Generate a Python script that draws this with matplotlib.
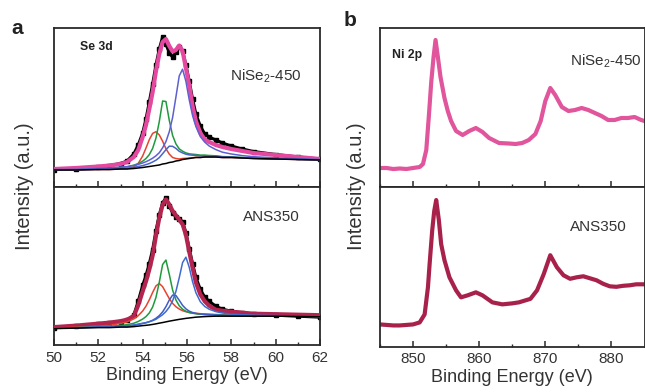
import matplotlib
matplotlib.use('Agg')
import matplotlib.pyplot as plt
from matplotlib.ticker import MultipleLocator

plt.rcParams['font.family'] = ['Liberation Sans', 'DejaVu Sans']
plt.rcParams['mathtext.fontset'] = 'custom'
plt.rcParams['mathtext.rm'] = 'Liberation Sans'
plt.rcParams['mathtext.it'] = 'Liberation Sans:italic'

# ---------------- Se 3d (panel a) ----------------
se_e = [50, 51, 52, 52.5, 53, 53.3, 53.6, 53.8, 54.0, 54.15, 54.3, 54.45, 54.6, 54.75,
        54.9, 55.05, 55.2, 55.35, 55.5, 55.65, 55.8, 55.95, 56.1, 56.25, 56.4, 56.6,
        56.8, 57.0, 57.3, 57.6, 58.0, 58.5, 59, 60, 61, 62]

# NiSe2-450
nise_data = [17.5, 18.5, 20, 21.5, 23.5, 26, 33, 42, 54, 68, 85, 103, 122, 138, 150, 143,
             134, 130, 135, 140, 136, 122, 106, 88, 73, 61, 53, 50, 47, 44, 41, 38, 35.5,
             32.5, 30, 28]
nise_fit = [18, 19, 20.5, 21.5, 23, 25, 30, 37, 50, 62, 78, 95, 116, 133, 145, 148, 141,
            135.5, 137, 141.5, 136, 119, 102, 81, 66, 54, 47.5, 45, 42, 40, 38, 36, 34, 32,
            30, 28]
nise_bg = [17, 17, 17.5, 17.5, 18, 18, 18.5, 19, 19.5, 20, 20.5, 21, 21.5, 22, 23, 23.5,
           24.5, 25, 26, 26.5, 27.5, 28, 28.5, 29, 29.5, 29.5, 30, 30, 30, 29.5, 29.5, 29,
           28.5, 28, 27.5, 27]
nise_c1 = [0, 0, 0, 0, 0, 0.3, 1.5, 4.6, 11.5, 19, 26.9, 32.6, 33.8, 30, 22.8, 14.8, 8.4,
           4.5, 2.5, 1.5, 1.0, 0.7, 0.5, 0.3, 0.2, 0.1, 0, 0, 0, 0, 0, 0, 0, 0, 0, 0]
nise_c2 = [0.3, 0.4, 0.7, 1.1, 1.6, 2.3, 3.3, 4.4, 6.3, 8.5, 11.9, 17.6, 27.4, 43.4, 63,
           62, 42.2, 26.6, 17.1, 11.6, 8.3, 6.1, 4.7, 3.8, 3.0, 2.4, 1.9, 1.5, 1.2, 0.9,
           0.7, 0.5, 0.4, 0.25, 0.2, 0.15]
nise_c3 = [0.1, 0.2, 0.3, 0.4, 0.6, 0.8, 1.1, 1.5, 1.9, 2.4, 3.0, 4.0, 5.3, 7.4, 10.3,
           13.8, 16.3, 15.7, 12.6, 9.2, 6.6, 4.8, 3.6, 2.8, 2.2, 1.6, 1.3, 1.0, 0.8, 0.6,
           0.4, 0.3, 0.2, 0.1, 0.1, 0.1]
nise_c4 = [0.4, 0.6, 1.0, 1.3, 1.9, 2.3, 3.0, 3.6, 4.5, 5.3, 6.4, 7.8, 9.7, 12.3, 16.2,
           21.9, 30.7, 44.4, 64, 84.6, 90.3, 77.7, 58.8, 42.6, 31, 21, 14.9, 11, 7.4, 5.3,
           3.5, 2.4, 1.8, 1.1, 0.7, 0.5]

# ANS350
ans_data = [17.5, 19, 21, 22, 23.5, 25, 30, 44, 60, 70, 82, 96, 115, 131, 143, 148, 140,
            133, 129, 127, 124, 113, 97, 82, 68, 56, 48, 44, 39, 36, 34, 32.5, 31, 30, 29,
            28]
ans_fit = [18, 19.5, 21.5, 22.5, 24, 25.5, 29, 40, 54, 64, 76, 90, 110, 128, 141, 146.5,
           141.5, 135, 130.5, 126, 121.5, 111, 94, 78, 63, 51, 44, 39.5, 35.5, 34.5, 33.5,
           32.5, 31.5, 31, 30.5, 30]
ans_bg = [16.5, 17, 17.5, 17.5, 18, 18, 18.5, 19, 19.5, 19.8, 20.2, 20.7, 21.3, 22, 22.6,
          23.3, 24, 24.6, 25.2, 25.8, 26.3, 26.8, 27.2, 27.6, 28, 28.3, 28.6, 28.8, 29, 29,
          29, 29, 29, 29, 28.8, 28.5]
ans_c1 = [0.5, 0.9, 1.6, 2.3, 3.7, 5.2, 7.8, 10.5, 14.7, 19.3, 25.3, 32.2, 38.2, 39.9,
          36.1, 29.4, 22.7, 17.3, 13.3, 10.4, 8.2, 6.7, 5.5, 4.6, 3.9, 3.2, 2.6, 2.2, 1.7,
          1.4, 1.1, 0.8, 0.6, 0.4, 0.3, 0.2]
ans_c2 = [0.3, 0.5, 0.8, 1.2, 1.8, 2.4, 3.4, 4.7, 6.6, 8.8, 12.1, 17.5, 26.6, 41.2, 58.4,
          62.2, 47.2, 30.8, 20.1, 13.7, 9.7, 7.2, 5.5, 4.4, 3.4, 2.7, 2.2, 1.8, 1.4, 1.1,
          0.8, 0.6, 0.5, 0.3, 0.2, 0.15]
ans_c3 = [0.2, 0.2, 0.4, 0.5, 0.8, 1.0, 1.3, 1.7, 2.1, 2.6, 3.3, 4.2, 5.6, 7.6, 10.7,
          15.3, 21.2, 25.6, 24.6, 19.2, 13.6, 9.6, 6.9, 5.1, 3.9, 2.8, 2.1, 1.7, 1.2, 0.9,
          0.7, 0.5, 0.4, 0.2, 0.15, 0.1]
ans_c4 = [0.3, 0.4, 0.6, 0.8, 1.1, 1.3, 1.7, 2.0, 2.4, 2.7, 3.2, 3.8, 4.6, 6.2, 7.9, 10.4,
          14.1, 19.8, 28.7, 41.9, 56.6, 61.6, 51.1, 36.2, 24.7, 15.3, 10.2, 7.2, 4.6, 3.2,
          2.1, 1.4, 1.0, 0.6, 0.4, 0.25]

# ---------------- Ni 2p (panel b) ----------------
ni_top_e = [845, 846, 847, 848, 849, 850, 851, 851.5, 852, 852.4, 852.75, 853.1, 853.4,
            853.75, 854.15, 854.75, 855.25, 855.75, 856.5, 857.5, 858.5, 859.5, 860.5,
            861.5, 863, 864.5, 865.5, 866.5, 867.5, 868.5, 869.3, 870, 870.75, 871.5,
            872.5, 873.5, 874.5, 875.5, 876.5, 877.5, 878.5, 879.5, 880.5, 881.5, 882.5,
            883.5, 884.5, 885]
ni_top_i = [19, 19, 18, 18.5, 18, 19, 20, 23, 37, 72, 105, 130, 147, 130, 110, 89, 76, 66,
            56, 52, 56, 59, 55, 49, 44, 43.5, 43, 44, 47, 53, 66, 86, 99, 92, 80, 76, 77,
            79, 77, 74, 71, 67, 67, 69, 69, 70, 67, 66]
ni_bot_e = [845, 846, 847, 848, 849, 850, 851, 851.75, 852.25, 852.5, 852.9, 853.2, 853.5,
            853.9, 854.25, 854.75, 855.5, 856.5, 857.25, 858.25, 859.5, 860.5, 862, 863.5,
            865, 866, 867, 867.75, 868.75, 869.75, 870.75, 871.75, 872.75, 873.75, 874.75,
            875.75, 876.75, 877.75, 878.75, 879.75, 880.75, 881.75, 882.75, 883.75, 884.75,
            885]
ni_bot_i = [22, 21.5, 21, 21, 21.5, 22, 24, 32, 59, 82, 116, 135, 146, 126, 102, 86, 69,
            56, 49, 51, 54, 51, 44, 42, 43, 44, 46, 47.5, 56, 72, 91, 79, 71, 67.5, 69, 70,
            68, 66, 62.5, 60, 59.5, 60.5, 61, 62, 62, 62]

W, H = 645, 392
fig = plt.figure(figsize=(W / 100, H / 100), dpi=100)


def ax_at(l, t, r, b):
    return fig.add_axes([l / W, 1 - b / H, (r - l) / W, (b - t) / H])


axa1 = ax_at(54, 28, 320, 187)
axa2 = ax_at(54, 187, 320, 345)
axb1 = ax_at(380, 28, 644.5, 187)
axb2 = ax_at(380, 187, 644.5, 346.5)

spine_c = '#2a2a2a'
text_c = '#333333'


def style(ax, xlim, major, minor, labels):
    ax.set_xlim(*xlim)
    ax.set_ylim(0, 159)
    ax.xaxis.set_major_locator(MultipleLocator(major))
    ax.xaxis.set_minor_locator(MultipleLocator(minor))
    ax.tick_params(axis='x', which='both', direction='in', top=False, bottom=True,
                   colors=spine_c, labelcolor=text_c, labelsize=11, pad=4)
    ax.tick_params(axis='x', which='major', length=4, width=1.1)
    ax.tick_params(axis='x', which='minor', length=2.5, width=1.0)
    ax.tick_params(axis='y', which='both', left=False, right=False, labelleft=False)
    if not labels:
        ax.tick_params(axis='x', labelbottom=False)
    for s in ax.spines.values():
        s.set_color(spine_c)
        s.set_linewidth(1.3)


def se_panel(ax, data, fit, bg, c1, c2, c3, c4, fit_color, c3_color, c4_color):
    ax.plot(se_e, data, color='black', lw=2.2, marker='s', ms=2.6, zorder=2)
    ax.plot(se_e, fit, color=fit_color, lw=3.0, zorder=3)
    for comp, col in ((c1, '#e8432f'), (c2, '#1f9a3c'), (c3, c3_color), (c4, c4_color)):
        ax.plot(se_e, [b + v for b, v in zip(bg, comp)], color=col, lw=1.1, zorder=4)
    ax.plot(se_e, bg, color='black', lw=1.1, zorder=5)


se_panel(axa1, nise_data, nise_fit, nise_bg, nise_c1, nise_c2, nise_c3, nise_c4,
         '#e4489f', '#4a64c8', '#5f5fd2')
se_panel(axa2, ans_data, ans_fit, ans_bg, ans_c1, ans_c2, ans_c3, ans_c4,
         '#b3244f', '#3f5cc4', '#3f6bd0')
style(axa1, (50, 62), 2, 1, False)
style(axa2, (50, 62), 2, 1, True)

axb1.plot(ni_top_e, ni_top_i, color='#e0559c', lw=3.0)
axb2.plot(ni_bot_e, ni_bot_i, color='#a8214b', lw=3.0)
style(axb1, (845, 885), 10, 5, False)
style(axb2, (845, 885), 10, 5, True)

axa2.set_xlabel('Binding Energy (eV)', fontsize=13, color=text_c, labelpad=2)
axb2.set_xlabel('Binding Energy (eV)', fontsize=13, color=text_c, labelpad=2)


def ftext(x, y, s, **kw):
    fig.text(x / W, 1 - y / H, s, **kw)


ftext(25, 186, 'Intensity (a.u.)', rotation=90, ha='center', va='center', fontsize=14.5,
      color=text_c)
ftext(356, 186, 'Intensity (a.u.)', rotation=90, ha='center', va='center', fontsize=14.5,
      color=text_c)
ftext(17, 29, 'a', ha='center', va='center', fontsize=15, fontweight='bold', color='#222')
ftext(350, 21, 'b', ha='center', va='center', fontsize=15, fontweight='bold', color='#222')
ftext(80, 47, 'Se 3d', ha='left', va='center', fontsize=8.8, fontweight='bold',
      color='#222')
ftext(392, 55, 'Ni 2p', ha='left', va='center', fontsize=8.8, fontweight='bold',
      color='#222')
ftext(230, 76, 'NiSe$_2$-450', ha='left', va='center', fontsize=11, color=text_c)
ftext(243, 217, 'ANS350', ha='left', va='center', fontsize=11, color=text_c)
ftext(570, 61, 'NiSe$_2$-450', ha='left', va='center', fontsize=11, color=text_c)
ftext(570, 227, 'ANS350', ha='left', va='center', fontsize=11, color=text_c)

fig.savefig('out.png', dpi=100)
